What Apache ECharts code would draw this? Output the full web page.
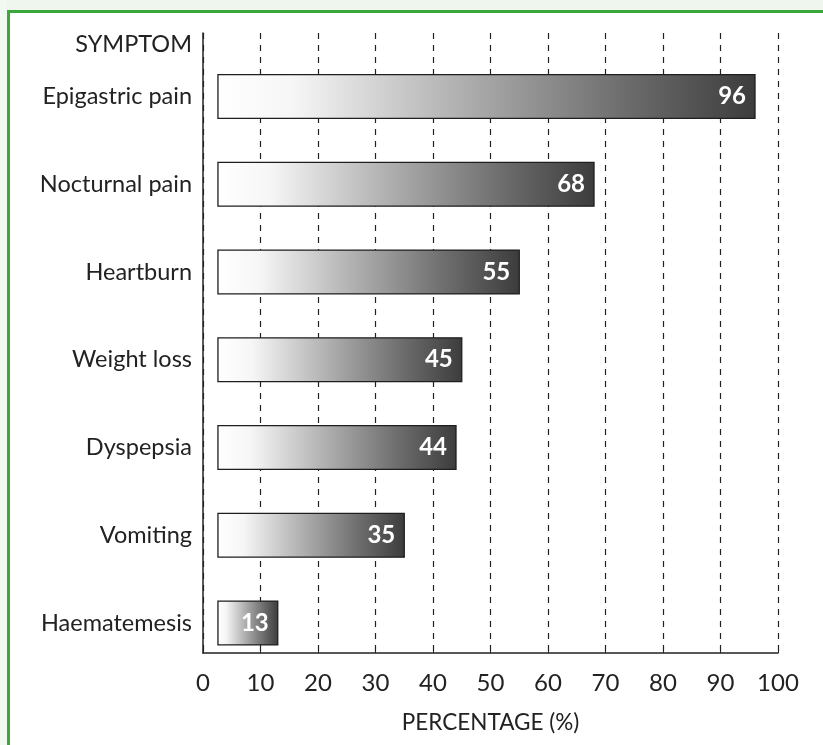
<!DOCTYPE html>
<html>
<head>
<meta charset="utf-8">
<script src="https://cdn.jsdelivr.net/npm/echarts@6/dist/echarts.min.js"></script>
<style>html,body{margin:0;padding:0;background:#fff;}#c{width:823px;height:745px;}</style>
</head>
<body>
<div id="c"></div>
<script>
const symptoms = ['Epigastric pain','Nocturnal pain','Heartburn','Weight loss','Dyspepsia','Vomiting','Haematemesis'];
const percentages = [96, 68, 55, 45, 44, 35, 13];
const xTicks = [0,10,20,30,40,50,60,70,80,90,100];
const headerLabel = 'SYMPTOM';
const xAxisTitle = 'PERCENTAGE (%)';

const BAR_START = 2.6;
const HEADER_POS = -0.59;
const FONT = 'Lato, "Open Sans", sans-serif';

const chart = echarts.init(document.getElementById('c'), null, {renderer:'canvas'});
const data = percentages.map((v,i)=>[v,i]);
chart.setOption({
  animation:false,
  backgroundColor:'#ffffff',
  graphic:[
    {type:'rect', shape:{x:0,y:0,width:823,height:10}, style:{fill:'#eef6ee'}, z:-10},
    {type:'rect', shape:{x:0,y:0,width:7,height:745}, style:{fill:'#f2f8f2'}, z:-10},
    {type:'rect', shape:{x:7,y:10,width:816,height:3}, style:{fill:'#3aa83a'}, z:-5},
    {type:'rect', shape:{x:7,y:10,width:3,height:735}, style:{fill:'#3aa83a'}, z:-5}
  ],
  grid:{left:203, right:45, top:33, bottom:92},
  xAxis:{
    type:'value', min:0, max:100, interval:10,
    name:xAxisTitle, nameLocation:'middle', nameGap:58,
    nameTextStyle:{fontFamily:FONT, fontSize:22.5, color:'#222'},
    axisLine:{show:true, onZero:false, lineStyle:{color:'#222', width:1.5}},
    axisTick:{show:true, inside:true, length:8, lineStyle:{color:'#222'}},
    axisLabel:{fontFamily:FONT, fontSize:24, color:'#222', margin:18,
      formatter:v=> xTicks.indexOf(v)>=0 ? String(v) : ''},
    splitLine:{show:true, lineStyle:{color:'#222', type:[6,6], width:1.2}}
  },
  yAxis:{
    type:'value', inverse:true, min:-0.724, max:6.342,
    axisLine:{show:true, onZero:false, lineStyle:{color:'#222', width:1.5}},
    axisTick:{show:false},
    splitLine:{show:false},
    axisLabel:{
      show:true, fontFamily:FONT, fontSize:23.5, color:'#222', margin:11,
      customValues:[HEADER_POS,0,1,2,3,4,5,6],
      formatter:v=> v<0 ? headerLabel : (symptoms[Math.round(v)]||'')
    }
  },
  series:[{
    type:'custom',
    data:data,
    encode:{x:0, y:1},
    renderItem:function(params, api){
      const v = api.value(0), idx = api.value(1);
      const p0 = api.coord([BAR_START, idx]);
      const p1 = api.coord([v, idx]);
      const h = api.size([0,0.5])[1];
      const w = p1[0]-p0[0];
      return {
        type:'group',
        children:[
          {type:'rect', shape:{x:p0[0], y:p0[1]-h/2, width:w, height:h},
           style:{
             fill:new echarts.graphic.LinearGradient(0,0,1,0,[
               {offset:0,color:'#ffffff'},
               {offset:0.14,color:'#f6f6f6'},
               {offset:0.45,color:'#b0b0b0'},
               {offset:0.75,color:'#6e6e6e'},
               {offset:1,color:'#3c3c3c'}
             ]),
             stroke:'#1e1e1e', lineWidth:1.3
           }},
          {type:'text', x:p1[0]-9, y:p1[1],
           style:{text:String(v), fill:'#ffffff', font:'bold 24px '+FONT, align:'right', verticalAlign:'middle'}}
        ]
      };
    }
  }]
});
</script>
</body>
</html>
